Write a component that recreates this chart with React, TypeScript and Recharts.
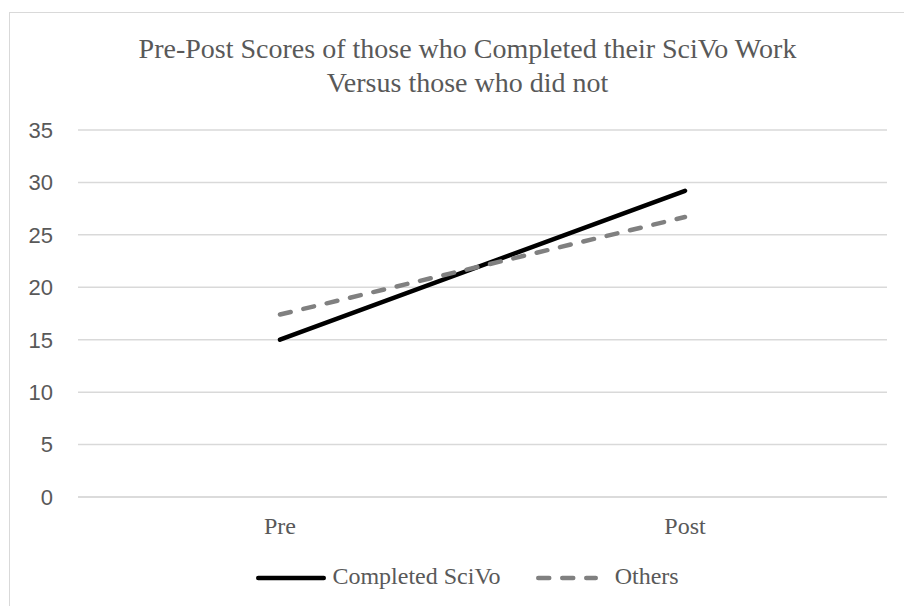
import { LineChart, Line, XAxis, YAxis, CartesianGrid, Legend } from "recharts";

const categories = ["Pre", "Post"];
const completedScores = [15.0, 29.2];
const otherScores = [17.4, 26.7];
const yTicks = [0, 5, 10, 15, 20, 25, 30, 35];

const data = categories.map((name, i) => ({
  name,
  completed: completedScores[i],
  others: otherScores[i],
}));

const serif = '"Liberation Serif", "Times New Roman", serif';
const sans = '"Liberation Sans", Arial, sans-serif';
const textGray = "#595959";
const gridGray = "#d9d9d9";
const CHART_W = 915;
const CHART_H = 600;

function LegendContent() {
  return (
    <div
      style={{
        display: "flex",
        justifyContent: "center",
        alignItems: "center",
        height: 24,
        marginTop: 1,
        fontFamily: serif,
        fontSize: 24,
        lineHeight: "24px",
        color: textGray,
      }}
    >
      <svg width={70} height={8} style={{ marginTop: 4 }}>
        <line x1={2.25} y1={4} x2={67.75} y2={4} stroke="#000" strokeWidth={4.5} strokeLinecap="round" />
      </svg>
      <span style={{ marginLeft: 6, marginRight: 35 }}>Completed SciVo</span>
      <svg width={62} height={8} style={{ marginTop: 4 }}>
        <line
          x1={2.25}
          y1={4}
          x2={59.75}
          y2={4}
          stroke="#808080"
          strokeWidth={4.5}
          strokeLinecap="round"
          strokeDasharray="11 13"
        />
      </svg>
      <span style={{ marginLeft: 17 }}>Others</span>
    </div>
  );
}

export default function App() {
  return (
    <div
      style={{
        position: "fixed",
        left: 0,
        top: 0,
        width: 904,
        height: 606,
        overflow: "hidden",
        background: "#fff",
      }}
    >
      <div
        style={{
          position: "absolute",
          left: 9,
          top: 12,
          width: CHART_W,
          height: CHART_H,
          border: `1.5px solid ${gridGray}`,
          background: "#fff",
        }}
      >
        {/* chart title */}
        <div
          style={{
            position: "absolute",
            top: 19,
            left: 0,
            width: "100%",
            textAlign: "center",
            fontFamily: serif,
            fontSize: 28,
            lineHeight: "34px",
            color: textGray,
          }}
        >
          Pre-Post Scores of those who Completed their SciVo Work
          <br />
          Versus those who did not
        </div>
        <LineChart
          width={CHART_W}
          height={CHART_H}
          data={data}
          margin={{ top: 117, right: 38, left: 0, bottom: 0 }}
        >
          <CartesianGrid vertical={false} stroke={gridGray} strokeWidth={1.5} />
          <XAxis
            dataKey="name"
            padding={{ left: 202, right: 202 }}
            axisLine={{ stroke: gridGray, strokeWidth: 1.5 }}
            tickLine={false}
            tickSize={0}
            tickMargin={20}
            height={66}
            tick={{ fontFamily: serif, fontSize: 24, fill: textGray }}
          />
          <YAxis
            domain={[0, 35]}
            ticks={yTicks}
            width={68}
            axisLine={false}
            tickLine={false}
            tickSize={0}
            tickMargin={25}
            tick={{ fontFamily: sans, fontSize: 22, fill: textGray }}
          />
          <Legend
            verticalAlign="bottom"
            height={50}
            wrapperStyle={{ left: 0, width: CHART_W }}
            content={() => <LegendContent />}
          />
          <Line
            dataKey="completed"
            name="Completed SciVo"
            stroke="#000000"
            strokeWidth={4.5}
            strokeLinecap="round"
            dot={false}
            activeDot={false}
            isAnimationActive={false}
          />
          <Line
            dataKey="others"
            name="Others"
            stroke="#808080"
            strokeWidth={4.5}
            strokeLinecap="round"
            strokeDasharray="11 13"
            dot={false}
            activeDot={false}
            isAnimationActive={false}
          />
        </LineChart>
      </div>
    </div>
  );
}
